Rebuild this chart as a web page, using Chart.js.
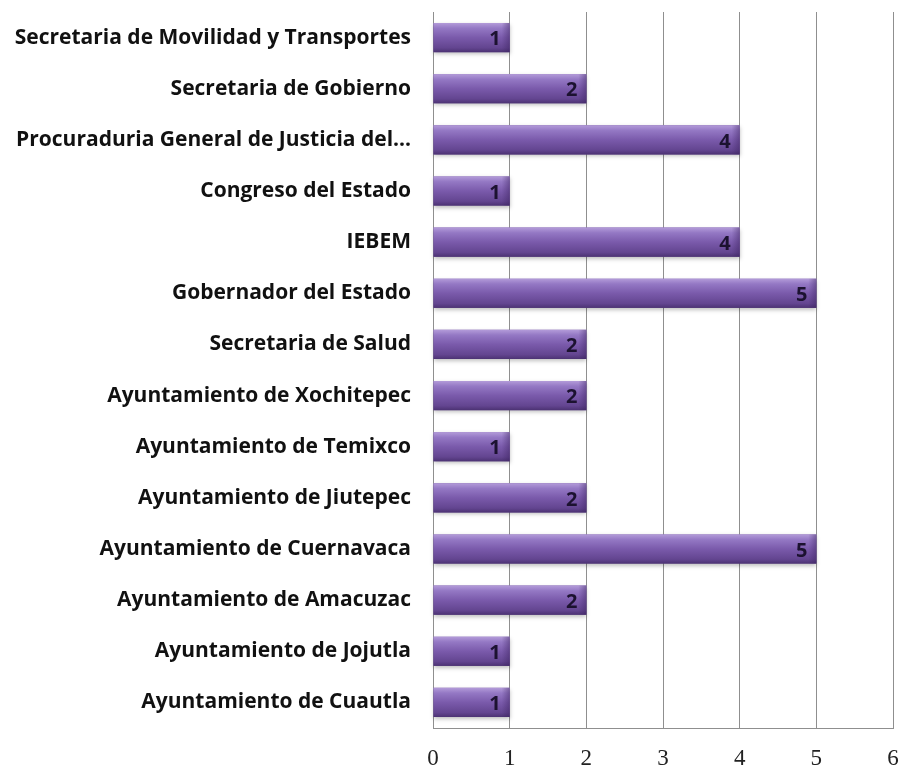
<!DOCTYPE html>
<html>
<head>
<meta charset="utf-8">
<script src="https://cdn.jsdelivr.net/npm/chart.js@4"></script>
<style>
  html, body { margin: 0; padding: 0; background: #fff; }
  #wrap { width: 901px; height: 770px; }
</style>
</head>
<body>
<div id="wrap"><canvas id="chart1" width="901" height="770"></canvas></div>
<script>
const categories = [
  'Secretaria de Movilidad y Transportes',
  'Secretaria de Gobierno',
  'Procuraduria General de Justicia del...',
  'Congreso del Estado',
  'IEBEM',
  'Gobernador del Estado',
  'Secretaria de Salud',
  'Ayuntamiento de Xochitepec',
  'Ayuntamiento de Temixco',
  'Ayuntamiento de Jiutepec',
  'Ayuntamiento de Cuernavaca',
  'Ayuntamiento de Amacuzac',
  'Ayuntamiento de Jojutla',
  'Ayuntamiento de Cuautla'
];
const values = [1, 2, 4, 1, 4, 5, 2, 2, 1, 2, 5, 2, 1, 1];
const xTicks = [0, 1, 2, 3, 4, 5, 6];

const gridColor = '#8f8f8f';

// paints the cylinder look over each bar and writes the value at its end
const barStyle = {
  id: 'barStyle',
  afterDatasetsDraw(chart) {
    const ctx = chart.ctx;
    const meta = chart.getDatasetMeta(0);
    meta.data.forEach((bar, i) => {
      const p = bar.getProps(['x', 'y', 'base', 'height'], true);
      const top = p.y - p.height / 2;
      const left = Math.min(p.base, p.x);
      const w = Math.abs(p.x - p.base);
      const h = p.height;

      ctx.save();
      ctx.shadowColor = 'rgba(0,0,0,0.25)';
      ctx.shadowBlur = 4;
      ctx.shadowOffsetY = 2;
      const g = ctx.createLinearGradient(0, top, 0, top + h);
      g.addColorStop(0, '#b39bd9');
      g.addColorStop(0.18, '#9478c4');
      g.addColorStop(0.5, '#7a5aab');
      g.addColorStop(0.85, '#634590');
      g.addColorStop(1, '#4c3273');
      ctx.fillStyle = g;
      ctx.fillRect(left, top, w, h);
      ctx.restore();

      // darker bevel at the right end
      ctx.save();
      const g2 = ctx.createLinearGradient(left + w - 8, 0, left + w, 0);
      g2.addColorStop(0, 'rgba(60,35,95,0)');
      g2.addColorStop(1, 'rgba(60,35,95,0.45)');
      ctx.fillStyle = g2;
      ctx.fillRect(left + w - 8, top, 8, h);
      ctx.restore();

      ctx.save();
      ctx.font = 'bold 20px "Open Sans", sans-serif';
      ctx.fillStyle = '#1c1230';
      ctx.textAlign = 'right';
      ctx.textBaseline = 'middle';
      ctx.fillText(String(values[i]), p.x - 9, p.y + 2);
      ctx.restore();
    });
  }
};

const data1 = {
  labels: categories,
  datasets: [
    {
      data: values,
      backgroundColor: '#7a5aab',
      borderWidth: 0,
      barPercentage: 0.62,
      categoryPercentage: 0.92
    }
  ]
};

const config1 = {
  type: 'bar',
  data: data1,
  options: {
    indexAxis: 'y',
    responsive: false,
    animation: false,
    layout: { padding: { top: 12, right: 8, bottom: 0, left: 0 } },
    plugins: {
      legend: { display: false },
      tooltip: { enabled: false }
    },
    scales: {
      x: {
        min: 0,
        max: 6,
        afterBuildTicks: (scale) => { scale.ticks = xTicks.map(v => ({ value: v })); },
        afterFit: (scale) => {
          scale.height = 42;
          scale.paddingLeft = 0;
          scale.paddingRight = 0;
        },
        grid: { color: gridColor, lineWidth: 1, drawTicks: false },
        border: { color: gridColor },
        ticks: {
          padding: 17,
          color: '#222',
          font: { family: '"Liberation Serif", serif', size: 23 }
        }
      },
      y: {
        afterFit: (scale) => {
          scale.width = 433;
          scale.paddingTop = 0;
          scale.paddingBottom = 0;
        },
        grid: { display: false, drawTicks: false },
        border: { color: gridColor },
        ticks: {
          padding: 22,
          color: '#111',
          font: { family: '"Open Sans", sans-serif', size: 21, weight: 'bold' }
        }
      }
    }
  },
  plugins: [barStyle]
};

const myChart1 = new Chart(document.getElementById('chart1').getContext('2d'), config1);
</script>
</body>
</html>
